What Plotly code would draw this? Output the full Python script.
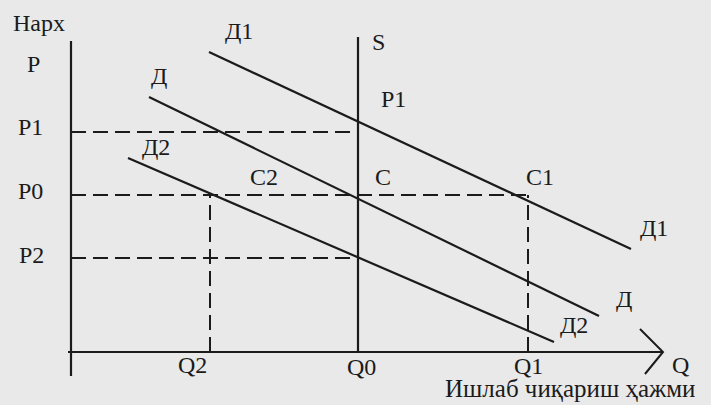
import plotly.graph_objects as go

# quantities and prices (origin at the axes crossing)
q_names = ["Q2", "Q0", "Q1"]
q_vals = [139, 287, 457]
p_names = ["P1", "P0", "P2"]
p_vals = [220, 157, 94]

# demand curves: (q start, p start, q end, p end)
demand = {
    "Д1": [138, 300, 560, 103],
    "Д": [78, 255, 528, 36],
    "Д2": [57, 194, 483, 10],
}
supply_q = 287
supply_top = 315

INK = "#1b1b1b"
BG = "#e9e9e9"
FONT = "Liberation Serif, Times New Roman, serif"

fig = go.Figure()


def seg(xs, ys, dash="solid", width=2.2):
    fig.add_trace(go.Scatter(x=xs, y=ys, mode="lines",
                             line=dict(color=INK, width=width, dash=dash),
                             hoverinfo="skip", showlegend=False))


# axes with the arrow on Q
seg([0, 0], [-24, 311])
seg([-3, 592], [0, 0])
seg([569, 592, 574], [23, 0, -22], width=2)

# supply
seg([supply_q, supply_q], [0, supply_top])

# demand lines
for name, (q0, p0, q1, p1) in demand.items():
    seg([q0, q1], [p0, p1])

# dashed guides
d = "15px,7px"
seg([0, q_vals[1]], [p_vals[0], p_vals[0]], dash=d, width=2)
seg([0, q_vals[2]], [p_vals[1], p_vals[1]], dash=d, width=2)
seg([0, q_vals[1]], [p_vals[2], p_vals[2]], dash=d, width=2)
seg([q_vals[0], q_vals[0]], [0, p_vals[1]], dash=d, width=2)
seg([q_vals[2], q_vals[2]], [0, p_vals[1]], dash=d, width=2)

labels = [
    ("Нарх", -32, 329), ("P", -38, 288),
    ("P1", -41, p_vals[0] + 5), ("P0", -41, p_vals[1] + 4), ("P2", -40, p_vals[2] + 3),
    ("Д1", 168, 321), ("Д", 88, 276), ("Д2", 85, 205),
    ("C2", 193, 175), ("S", 307, 310), ("P1", 322, 253),
    ("C", 312, 175), ("C1", 469, 175),
    ("Д1", 583, 124), ("Д", 553, 53), ("Д2", 503, 27),
    ("Q2", q_vals[0] - 18, -13), ("Q0", q_vals[1] + 3, -15),
    ("Q1", q_vals[2], -14), ("Q", 609, -13),
]
for txt, x, y in labels:
    fig.add_annotation(x=x, y=y, text=txt, showarrow=False,
                       font=dict(family=FONT, size=24, color=INK))

fig.add_annotation(x=499, y=-36, text="Ишлаб чиқариш ҳажми", showarrow=False,
                   font=dict(family=FONT, size=25, color=INK))

fig.update_xaxes(range=[-71, 640], visible=False)
fig.update_yaxes(range=[-53, 352], visible=False)
fig.update_layout(width=711, height=405, autosize=False,
                  margin=dict(l=0, r=0, t=0, b=0),
                  paper_bgcolor=BG, plot_bgcolor=BG)

fig.write_html("out.html", config={"displayModeBar": False},
               post_script="document.body.style.margin='0';")
